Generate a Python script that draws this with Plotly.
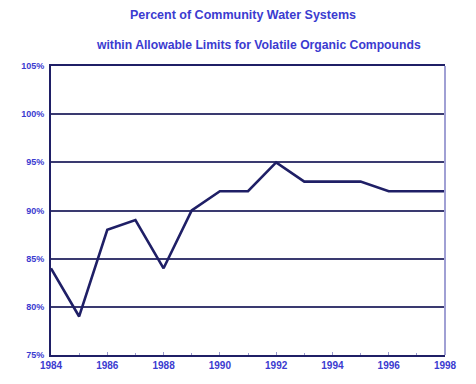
import plotly.graph_objects as go

years = list(range(1984, 1999))
percent = [84, 79, 88, 89, 84, 90, 92, 92, 95, 93, 93, 93, 92, 92, 92]
x_ticks = [1984, 1986, 1988, 1990, 1992, 1994, 1996, 1998]
y_ticks = [75, 80, 85, 90, 95, 100, 105]
title_lines = ["Percent of Community Water Systems",
               "within Allowable Limits for Volatile Organic Compounds"]

blue = "#3b3bd0"
navy = "#1f1f66"
light_edge = "#a0a0d4"
font_fam = "Liberation Sans, Arial"

fig = go.Figure()
fig.add_trace(go.Scatter(x=years, y=percent, mode="lines",
                         line=dict(color=navy, width=2.6), hoverinfo="skip"))

fig.add_annotation(text=title_lines[0], x=0.5, y=1.0, xref="paper", yref="paper",
                   xanchor="center", yanchor="middle", yshift=51, xshift=-5, showarrow=False,
                   font=dict(family=font_fam, size=12.5, color=blue, weight="bold"))
fig.add_annotation(text=title_lines[1], x=0.5, y=1.0, xref="paper", yref="paper",
                   xanchor="center", yanchor="middle", yshift=21, xshift=10, showarrow=False,
                   font=dict(family=font_fam, size=12.2, color=blue, weight="bold"))

# light right-hand frame edge
fig.add_shape(type="line", xref="paper", yref="paper", x0=1, x1=1, y0=0, y1=1,
              line=dict(color=light_edge, width=2))

fig.update_layout(
    width=476, height=384,
    margin=dict(l=51, r=31, t=66, b=29),
    paper_bgcolor="white", plot_bgcolor="white",
    showlegend=False,
)
fig.update_xaxes(range=[1984, 1998], tickvals=x_ticks, ticktext=[str(v) for v in x_ticks],
                 showgrid=False, showline=True, linecolor=navy, linewidth=2, mirror=True,
                 ticks="inside", ticklen=3, tickcolor="#9999cc",
                 minor=dict(dtick=1, ticks="inside", ticklen=2, tickcolor="#9999cc"),
                 tickfont=dict(family=font_fam, size=10, color=blue, weight="bold"), zeroline=False)
fig.update_yaxes(range=[75, 105], tickvals=y_ticks, ticktext=[f"{v}%" for v in y_ticks],
                 showgrid=True, gridcolor="#3a3a70", gridwidth=1.5,
                 showline=True, linecolor=navy, linewidth=2, mirror=False,
                 ticks="", ticklabelstandoff=3,
                 tickfont=dict(family=font_fam, size=9, color=blue, weight="bold"), zeroline=False)

fig.write_html("out.html")
